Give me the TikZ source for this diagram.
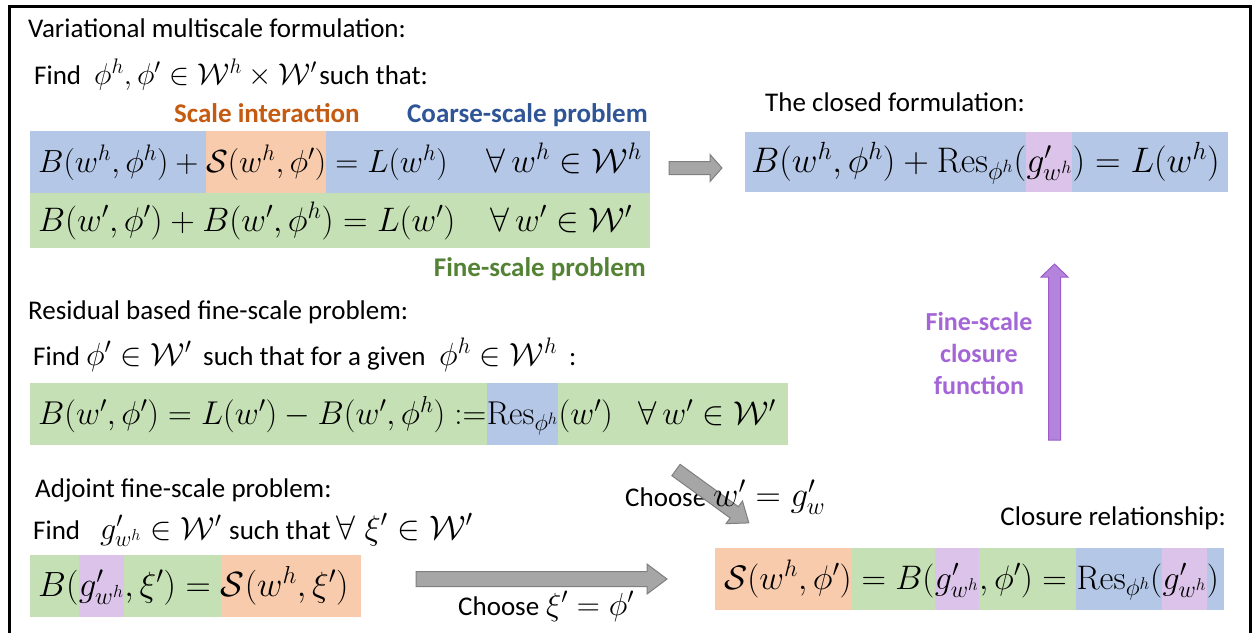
\documentclass[tikz,border=0pt]{standalone}
\usepackage{fix-cm}
\usepackage[no-math]{fontspec}
\setmainfont{Carlito}

\definecolor{boxblue}{HTML}{B4C7E7}
\definecolor{boxgreen}{HTML}{C5E0B4}
\definecolor{boxorange}{HTML}{F8CBAD}
\definecolor{boxpurple}{HTML}{DCC3EA}
\definecolor{txtorange}{HTML}{C55A11}
\definecolor{txtblue}{HTML}{2F5597}
\definecolor{txtgreen}{HTML}{548235}
\definecolor{txtpurple}{HTML}{A466D6}
\definecolor{arrpurple}{HTML}{B484DC}
\definecolor{arrpurpleedge}{HTML}{9B5CCB}
\definecolor{arrgray}{HTML}{A6A6A6}
\definecolor{arrgrayedge}{HTML}{7F7F7F}

\newcommand\eqsize[1]{\fontsize{#1}{36}\selectfont}
\newcommand\txtsize{\fontsize{27}{33}\selectfont}

\pgfdeclarelayer{background}
\pgfsetlayers{background,main}

\tikzset{
  seg/.style={inner sep=0pt, text height=41pt, text depth=21pt, anchor=base west, font=\eqsize{#1}},
  seg/.default=32,
  eqn/.style={inner sep=0pt, anchor=base west, font=\eqsize{#1}},
  eqn/.default=32,
  lbl/.style={inner sep=0pt, anchor=base west, font=\txtsize},
  tag/.style={inner sep=0pt, anchor=base west, font=\txtsize\bfseries},
  garrow/.style={fill=arrgray, draw=arrgrayedge, line width=1pt},
  parrow/.style={fill=arrpurple, draw=arrpurpleedge, line width=1pt},
}

\begin{document}
\begin{tikzpicture}[x=1pt,y=-1pt]
\useasboundingbox (0,0) rectangle (1252,633);

% frame (open at the bottom)
\draw[line width=3pt] (9.5,633) -- (9.5,6.5) -- (1250.5,6.5) -- (1250.5,633);

% ---------- variational multiscale formulation ----------
\node[lbl] (vms) at (28,37) {Variational multiscale formulation:};
\node[lbl] (vmsfind) at (34,84) {Find};
\node[eqn=30] (vmsfindm) at (94,84) {$\phi^h,\phi'\in\mathcal{W}^h\times\mathcal{W}'$};
\node[lbl] (vmsfindt) at (vmsfindm.base east) {\hspace{2pt}such that:};
\node[tag, text=txtorange] (scaleint) at (174,122) {Scale interaction};
\node[tag, text=txtblue] (coarse) at (407,122) {Coarse-scale problem};
\node[tag, text=txtgreen, anchor=base east] (fine) at (646,276) {Fine-scale problem};

% coarse-scale equation
\node[seg] (c1) at (38,172) {$B(w^h,\phi^h)+{}$};
\node[seg] (c2) at (c1.base east) {$\mathcal{S}(w^h,\phi')$};
\node[seg] (c3) at (c2.base east) {${}=L(w^h)$};
\node[seg=34, anchor=base east] (c4) at (642,172) {$\forall\, w^h\in\mathcal{W}^h$};
% fine-scale equation
\node[eqn=34] (f1) at (38,231) {$B(w',\phi')+B(w',\phi^h)=L(w')$};
\node[eqn=34, anchor=base east] (f2) at (632,231) {$\forall\, w'\in\mathcal{W}'$};

% ---------- closed formulation ----------
\node[lbl] (closedt) at (765,111) {The closed formulation:};
\node[seg=35.5, text height=40pt, text depth=20pt] (k1) at (751,172) {$B(w^h,\phi^h)+\mathrm{Res}_{\phi^h}($};
\node[seg=35.5, text height=40pt, text depth=20pt] (k2) at (k1.base east) {$g'_{w^h}$};
\node[seg=35.5, text height=40pt, text depth=20pt] (k3) at (k2.base east) {$)=L(w^h)$};

% ---------- residual based fine-scale problem ----------
\node[lbl] (rest) at (28,319) {Residual based fine-scale problem:};
\node[lbl] (resfind) at (33,365) {Find};
\node[eqn] (resfindm1) at (86,365) {$\phi'\in\mathcal{W}'$};
\node[lbl] (resfindt) at (203,365) {such that for a given};
\node[eqn] (resfindm2) at (439,365) {$\phi^h\in\mathcal{W}^h$};
\node[lbl] (resfindc) at (569,365) {:};
\node[seg=33] (r1) at (38,424) {$B(w',\phi')=L(w')-B(w',\phi^h):=$};
\node[seg=33] (r2) at (r1.base east) {$\mathrm{Res}_{\phi^h}$};
\node[seg=33] (r3) at (r2.base east) {$(w')$};
\node[seg=33, anchor=base east] (r4) at (776,424) {$\forall\, w'\in\mathcal{W}'$};

% ---------- adjoint fine-scale problem ----------
\node[lbl] (adjt) at (35,497) {Adjoint fine-scale problem:};
\node[lbl] (adjfind) at (33,539) {Find};
\node[eqn] (adjfindm1) at (100,539) {$g'_{w^h}\in\mathcal{W}'$};
\node[lbl] (adjfindt) at (229,539) {such that};
\node[eqn=34] (adjfindm2) at (336,539) {$\forall\;\xi'\in\mathcal{W}'$};
\node[seg=35] (a1) at (38,596) {$B($};
\node[seg=35] (a2) at (a1.base east) {$g'_{w^h}$};
\node[seg=35] (a3) at (a2.base east) {$,\xi')={}$};
\node[seg=35] (a4) at (a3.base east) {$\mathcal{S}(w^h,\xi')$};

\node[lbl] (choosexi) at (458,615) {Choose};
\node[eqn] (choosexim) at (546,615) {$\xi'=\phi'$};
\node[lbl] (choosew) at (625,506) {Choose};

% ---------- closure relationship ----------
\node[lbl, anchor=base east] (closuret) at (1226,525) {Closure relationship:};
\node[seg=34] (z1) at (724,589) {$\mathcal{S}(w^h,\phi')$};
\node[seg=34] (z2) at (z1.base east) {${}=B($};
\node[seg=34] (z3) at (z2.base east) {$g'_{w^h}$};
\node[seg=34] (z4) at (z3.base east) {$,\phi')={}$};
\node[seg=34] (z5) at (z4.base east) {$\mathrm{Res}_{\phi^h}($};
\node[seg=34] (z6) at (z5.base east) {$g'_{w^h}$};
\node[seg=34] (z7) at (z6.base east) {$)$};

% fine-scale closure function
\node[inner sep=0pt, align=center, text=txtpurple, font=\fontsize{26}{32}\selectfont\bfseries] (closfun) at (979,353) {Fine-scale\\closure\\function};

% ---------- coloured backgrounds ----------
\begin{pgfonlayer}{background}
  % coarse / fine rows
  \fill[boxblue] (30,131) rectangle (650,193);
  \fill[boxorange] (c2.north west) rectangle (c2.south east);
  \fill[boxgreen] (30,193) rectangle (650,248);
  % closed formulation
  \fill[boxblue] (745,132) rectangle (1228,192);
  \fill[boxpurple] (k2.north west) rectangle (k2.south east);
  % residual row
  \fill[boxgreen] (30,383) rectangle (788,445);
  \fill[boxblue] (r2.north west) rectangle (r2.south east);
  % adjoint row
  \fill[boxgreen] (30,555) rectangle (a3.south east);
  \fill[boxpurple] (a2.north west) rectangle (a2.south east);
  \fill[boxorange] (a4.north west) rectangle (361,617);
  % closure row
  \fill[boxblue] (715,548) rectangle ([xshift=5pt]z7.south east);
  \fill[boxorange] (715,548) rectangle (z1.south east);
  \fill[boxgreen] (z2.north west) rectangle (z4.south east);
  \fill[boxpurple] (z3.north west) rectangle (z3.south east);
  \fill[boxpurple] (z6.north west) rectangle (z6.south east);
\end{pgfonlayer}

% ---------- block arrows ----------
% coarse/fine system -> closed formulation
\draw[garrow] (669,161.5) -- (710,161.5) -- (710,154.5) -- (722,168) -- (710,181.5) -- (710,174.5) -- (669,174.5) -- cycle;
% adjoint problem -> closure relationship
\draw[garrow] (416,571.5) -- (647,571.5) -- (647,564) -- (667,579) -- (647,594) -- (647,586.5) -- (416,586.5) -- cycle;
% residual problem -> closure relationship
\begin{scope}[shift={(676,470)}, rotate=-36]
  \draw[garrow] (0,-7) -- (72,-7) -- (72,-14) -- (90,0) -- (72,14) -- (72,7) -- (0,7) -- cycle;
\end{scope}
\node[eqn=35] (choosewm) at (713,506) {$w'=g'_w$};
% closure relationship -> closed formulation
\draw[parrow] (1048.5,440) -- (1048.5,277) -- (1041,277) -- (1054.5,264) -- (1068,277) -- (1060.5,277) -- (1060.5,440) -- cycle;
\end{tikzpicture}
\end{document}
